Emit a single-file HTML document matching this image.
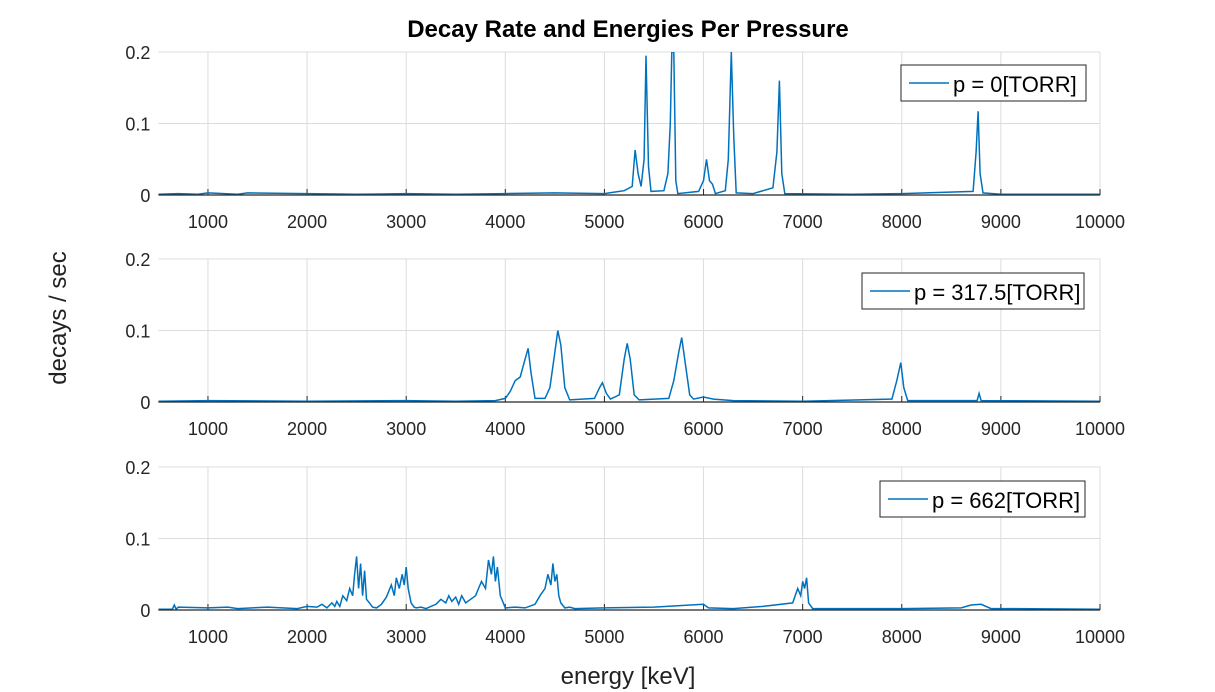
<!DOCTYPE html>
<html><head><meta charset="utf-8">
<style>
html,body{margin:0;padding:0;background:#fff;width:1215px;height:692px;overflow:hidden}
svg text{font-family:"Liberation Sans",sans-serif}
</style></head>
<body>
<svg id="chart" width="1215" height="692" xmlns="http://www.w3.org/2000/svg">
<text x="628" y="37" text-anchor="middle" font-size="24" font-weight="bold" fill="#000">Decay Rate and Energies Per Pressure</text>
<text transform="translate(66,318) rotate(-90)" text-anchor="middle" font-size="24" fill="#222">decays / sec</text>
<text x="628" y="684" text-anchor="middle" font-size="24" fill="#222">energy [keV]</text>
</svg>
<script>
const xTicks = [1000,2000,3000,4000,5000,6000,7000,8000,9000,10000];
const yTicks = [0,0.1,0.2];
const yTickLabels = ["0","0.1","0.2"];
const pressures = ["0","317.5","662"];

const e1 = [500,700,900,1000,1300,1400,2000,2500,3000,3500,4000,4500,5000,5100,5200,5280,5310,5340,5370,5400,5420,5445,5470,5600,5640,5665,5680,5700,5720,5740,5950,6000,6030,6060,6090,6120,6220,6250,6280,6305,6330,6500,6700,6740,6765,6790,6820,7500,8000,8720,8750,8770,8790,8820,9000,10000];
const v1 = [0.001,0.002,0.001,0.003,0.001,0.003,0.002,0.001,0.002,0.001,0.002,0.003,0.002,0.004,0.006,0.012,0.063,0.03,0.012,0.05,0.195,0.04,0.005,0.006,0.03,0.1,0.21,0.21,0.02,0.002,0.005,0.02,0.05,0.02,0.015,0.002,0.006,0.05,0.21,0.08,0.003,0.002,0.01,0.06,0.16,0.03,0.002,0.001,0.002,0.005,0.06,0.117,0.03,0.003,0.001,0.001];

const e2 = [500,1000,2000,3000,3500,3900,4000,4050,4100,4150,4200,4230,4260,4300,4400,4450,4500,4530,4560,4600,4650,4900,4950,4980,5020,5060,5150,5200,5230,5260,5300,5350,5650,5700,5750,5780,5810,5860,5900,6000,6100,6300,7000,7900,7950,7990,8020,8060,8760,8780,8800,10000];
const v2 = [0.001,0.002,0.001,0.002,0.001,0.002,0.005,0.015,0.03,0.035,0.06,0.075,0.04,0.005,0.005,0.02,0.07,0.1,0.08,0.02,0.003,0.005,0.02,0.027,0.012,0.004,0.01,0.06,0.082,0.06,0.01,0.003,0.005,0.03,0.07,0.09,0.06,0.01,0.004,0.007,0.004,0.002,0.001,0.004,0.03,0.055,0.02,0.002,0.002,0.012,0.002,0.001];

const e3 = [500,640,660,680,700,1000,1200,1300,1600,1900,2000,2100,2150,2200,2250,2280,2300,2330,2360,2400,2430,2460,2480,2500,2520,2540,2560,2580,2600,2630,2660,2700,2750,2800,2850,2880,2900,2930,2960,2980,3000,3020,3050,3080,3100,3150,3200,3300,3350,3400,3430,3460,3500,3530,3560,3600,3650,3700,3730,3760,3800,3830,3860,3880,3900,3920,3950,3980,4000,4100,4200,4300,4350,4400,4430,4460,4480,4500,4520,4540,4560,4600,4650,4700,5000,5500,6000,6050,6300,6600,6900,6950,6980,7000,7020,7040,7060,7100,7400,8000,8600,8700,8800,8900,9100,10000];
const v3 = [0.001,0.001,0.007,0.001,0.004,0.003,0.004,0.002,0.004,0.002,0.005,0.004,0.008,0.003,0.01,0.005,0.012,0.005,0.02,0.013,0.03,0.02,0.05,0.075,0.03,0.065,0.02,0.055,0.015,0.01,0.004,0.003,0.008,0.018,0.035,0.02,0.045,0.03,0.05,0.035,0.06,0.03,0.01,0.004,0.003,0.004,0.002,0.008,0.015,0.01,0.02,0.012,0.018,0.008,0.02,0.01,0.015,0.02,0.03,0.04,0.03,0.07,0.05,0.075,0.04,0.06,0.02,0.01,0.003,0.004,0.003,0.008,0.02,0.03,0.05,0.035,0.065,0.04,0.05,0.02,0.01,0.003,0.004,0.002,0.003,0.004,0.008,0.003,0.002,0.005,0.01,0.03,0.02,0.04,0.03,0.045,0.01,0.002,0.002,0.002,0.003,0.007,0.008,0.002,0.002,0.001];

const series = [[e1,v1],[e2,v2],[e3,v3]];
const panelTops = [52,259,467];
const PH = 143, X0 = 158.4, X1 = 1100, XMIN = 500, XMAX = 10000, YMAX = 0.2;
const legends = [[901,65,185],[862,273,222],[880,481,205]];
const xs = e => X0 + (e - XMIN) / (XMAX - XMIN) * (X1 - X0);
const NS = "http://www.w3.org/2000/svg";
const svg = document.getElementById('chart');
function mk(tag, attrs, parent){const el=document.createElementNS(NS,tag);for(const k in attrs)el.setAttribute(k,attrs[k]);(parent||svg).appendChild(el);return el;}

series.forEach((s, i) => {
  const top = panelTops[i];
  const ys = v => top + PH - Math.min(v, YMAX) / YMAX * PH;
  const g = mk('g', {});
  
  
  mk('rect', {x:X0, y:top, width:X1-X0, height:PH, fill:'#fff'}, g);
  xTicks.forEach(t => {
    const gl = mk('line', {x1:xs(t), x2:xs(t), y1:top, y2:top+PH, stroke:'#dcdcdc', 'stroke-width':1}, g);
    
    
    mk('line', {x1:xs(t), x2:xs(t), y1:top+PH, y2:top+PH-6, stroke:'#262626', 'stroke-width':1}, g);
    const tl = mk('text', {x:xs(t), y:top+PH+33, 'text-anchor':'middle', 'font-size':18, fill:'#262626'}, g);
    tl.textContent = t;
    
    
  });
  yTicks.forEach((t, j) => {
    const y = ys(t);
    if (j > 0) mk('line', {x1:X0, x2:X1, y1:y, y2:y, stroke:'#dcdcdc', 'stroke-width':1}, g);
    const tl = mk('text', {x:X0-8, y:y+7, 'text-anchor':'end', 'font-size':18, fill:'#262626'}, g);
    tl.textContent = yTickLabels[j];
    
    
  });
  const [es, vs] = s;
  let d = '';
  es.forEach((e, k) => { d += (k ? 'L' : 'M') + xs(e).toFixed(1) + ',' + ys(vs[k]).toFixed(1); });
  const clip = mk('clipPath', {id:'c'+i}, g);
  mk('rect', {x:X0, y:top, width:X1-X0, height:PH}, clip);
  const p = mk('path', {d:d, fill:'none', stroke:'#0072bd', 'stroke-width':1.5, 'clip-path':'url(#c'+i+')'}, g);
  
  
  mk('line', {x1:X0, x2:X1, y1:top+PH, y2:top+PH, stroke:'#262626', 'stroke-width':1.2}, g);
  const [lx, ly, lw] = legends[i];
  const lg = mk('g', {}, g);
  
  
  mk('rect', {x:lx, y:ly, width:lw, height:36, fill:'#fff', stroke:'#262626', 'stroke-width':1}, lg);
  mk('line', {x1:lx+8, x2:lx+48, y1:ly+18, y2:ly+18, stroke:'#0072bd', 'stroke-width':1.5}, lg);
  const lt = mk('text', {x:lx+52, y:ly+27, 'font-size':22, fill:'#000'}, lg);
  lt.textContent = 'p = ' + pressures[i] + '[TORR]';
});
</script>
</body></html>
